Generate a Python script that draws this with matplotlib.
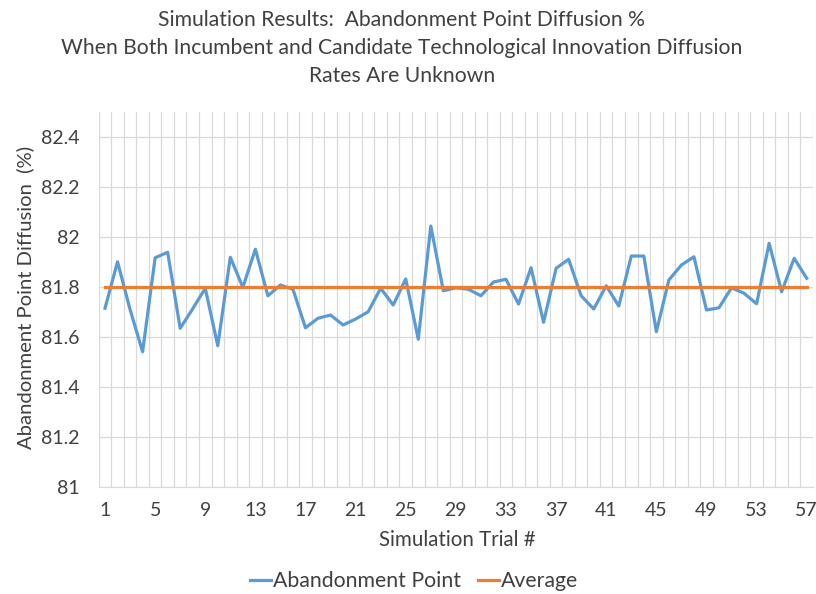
import numpy as np
import matplotlib.pyplot as plt

plt.rcParams['font.family'] = ['Lato', 'DejaVu Sans']

trials = np.arange(1, 58)
abandonment = [81.715, 81.901, 81.710, 81.541, 81.917, 81.939, 81.635, 81.713, 81.795, 81.565,
               81.919, 81.799, 81.951, 81.765, 81.808, 81.791, 81.637, 81.675, 81.688, 81.648,
               81.672, 81.701, 81.795, 81.728, 81.832, 81.591, 82.044, 81.785, 81.797, 81.791,
               81.765, 81.820, 81.831, 81.732, 81.877, 81.659, 81.875, 81.911, 81.765, 81.712,
               81.805, 81.724, 81.924, 81.924, 81.621, 81.828, 81.888, 81.921, 81.708, 81.717,
               81.797, 81.775, 81.733, 81.975, 81.781, 81.915, 81.835]
average_value = 81.80

y_ticks = [81, 81.2, 81.4, 81.6, 81.8, 82, 82.2, 82.4]
y_labels = ['81', '81.2', '81.4', '81.6', '81.8', '82', '82.2', '82.4']
x_ticks = list(range(1, 58, 4))

title_lines = ['Simulation Results:  Abandonment Point Diffusion %',
               'When Both Incumbent and Candidate Technological Innovation Diffusion',
               'Rates Are Unknown']

text_color = '#404040'
grid_color = '#D9D9D9'

fig = plt.figure(figsize=(8.16, 5.94), dpi=100)
ax = fig.add_axes([0.121, 0.1801, 0.8753, 0.6313])

ax.plot(trials, abandonment, color='#5B9BD5', lw=2.3, label='Abandonment Point',
        solid_joinstyle='round')
ax.plot(trials, np.full(len(trials), average_value), color='#ED7D31', lw=2.3, label='Average')

ax.set_xlim(0.5, 57.5)
ax.set_ylim(81, 82.5)
ax.set_xticks(x_ticks)
ax.set_xticklabels([str(t) for t in x_ticks])
ax.set_xticks(np.arange(0.5, 58, 1), minor=True)
ax.set_yticks(y_ticks)
ax.set_yticklabels(y_labels)

ax.grid(which='minor', axis='x', color=grid_color, lw=0.9)
ax.grid(which='major', axis='y', color=grid_color, lw=0.9)
ax.set_axisbelow(True)
ax.tick_params(which='both', length=0, labelsize=14, colors=text_color)
ax.tick_params(axis='x', pad=11)
ax.tick_params(axis='y', pad=14)
for s in ['top', 'right', 'left']:
    ax.spines[s].set_visible(False)
ax.spines['bottom'].set_color(grid_color)

# title, three centred lines
for line, yy in zip(title_lines, [20, 48, 76]):
    fig.text(402 / 816, 1 - yy / 594, line, ha='center', va='center', fontsize=15.2, color=text_color)

fig.text(25 / 816, 1 - 297 / 594, 'Abandonment Point Diffusion  (%)', rotation=90,
         ha='center', va='center', fontsize=14.6, color=text_color)
fig.text(457 / 816, 1 - 540 / 594, 'Simulation Trial #', ha='center', va='center',
         fontsize=14.8, color=text_color)

fig.legend(loc='center', bbox_to_anchor=(414 / 816, 1 - 581 / 594), ncol=2, frameon=False,
           fontsize=15.3, handlelength=1.0, handletextpad=0.1, columnspacing=0.8,
           labelcolor=text_color, borderpad=0.1)

fig.savefig('out.png', dpi=100)
